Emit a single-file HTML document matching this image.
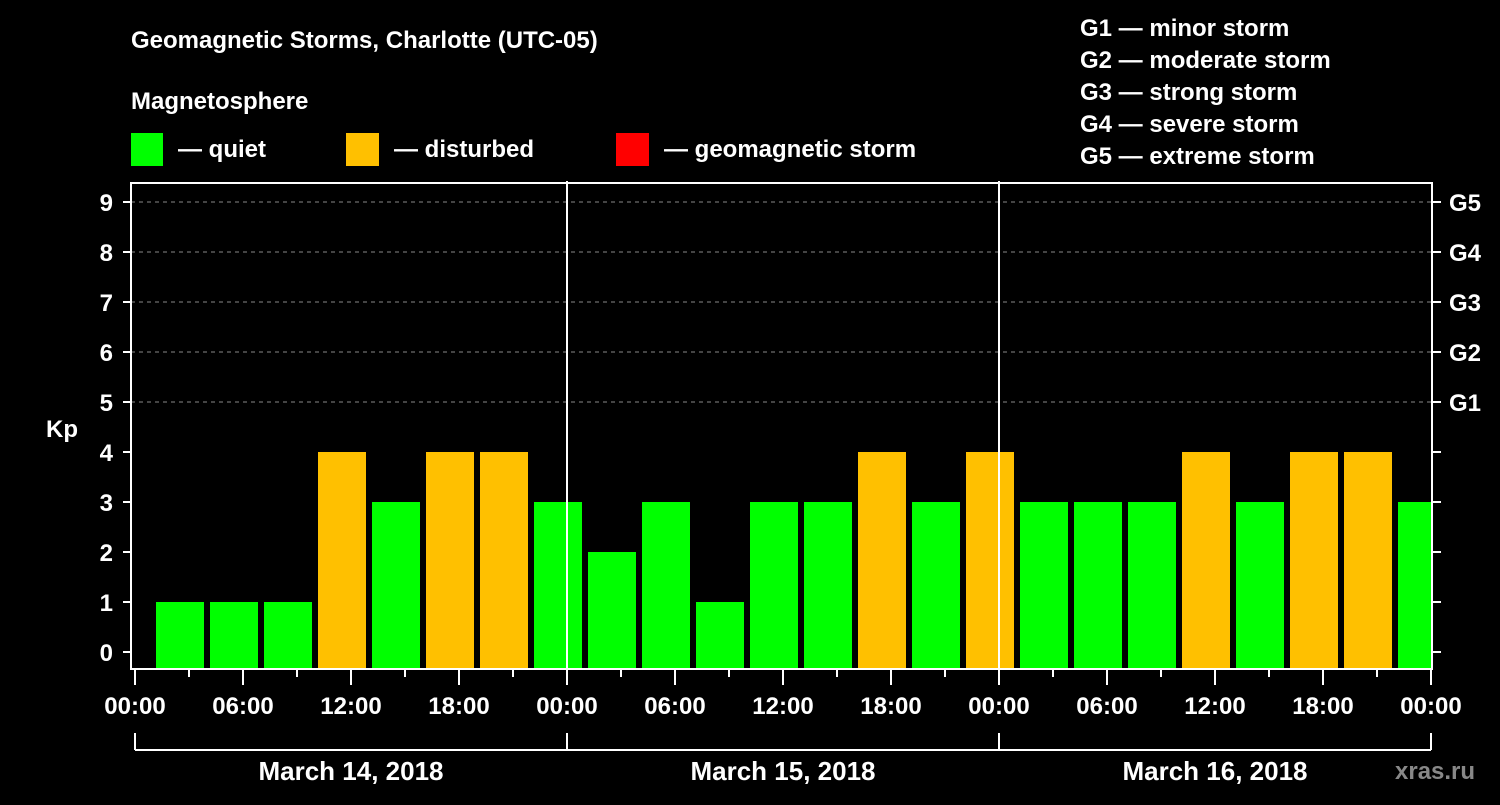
<!DOCTYPE html>
<html><head><meta charset="utf-8"><style>
body{margin:0;background:#000;}
svg text{font-family:"Liberation Sans",sans-serif;font-weight:bold;fill:#fff;}
</style></head><body>
<svg width="1500" height="800" viewBox="0 0 1500 800">
<rect x="0" y="0" width="1500" height="800" fill="#000"/>
<text x="131" y="48" font-size="24">Geomagnetic Storms, Charlotte (UTC-05)</text>
<text x="131" y="109" font-size="24">Magnetosphere</text>
<g><rect x="131" y="133" width="32" height="33" fill="#00ff00"/><text x="178" y="157" font-size="24">— quiet</text></g>
<g><rect x="346" y="133" width="33" height="33" fill="#ffc000"/><text x="394" y="157" font-size="24">— disturbed</text></g>
<g><rect x="616" y="133" width="33" height="33" fill="#ff0000"/><text x="664" y="157" font-size="24">— geomagnetic storm</text></g>
<g font-size="24">
<text x="1080" y="36">G1 — minor storm</text>
<text x="1080" y="68">G2 — moderate storm</text>
<text x="1080" y="100">G3 — strong storm</text>
<text x="1080" y="132">G4 — severe storm</text>
<text x="1080" y="164">G5 — extreme storm</text>
</g>
<text x="62" y="437" font-size="24" text-anchor="middle">Kp</text>
<text x="1395" y="779" font-size="24" fill="#888" style="fill:#888">xras.ru</text>
<defs><clipPath id="pc"><rect x="131" y="183" width="1301" height="486"/></clipPath></defs>
<g id="grid"></g>
<g id="bars" clip-path="url(#pc)"></g>
<g id="axes"></g>
</svg>
<script>
const kpValues=[1,1,1,4,3,4,4,3, 2,3,1,3,3,4,3,4, 3,3,3,4,3,4,4,3];
const yTicks=[0,1,2,3,4,5,6,7,8,9];
const gLabels=["G1","G2","G3","G4","G5"];
const timeLabels=["00:00","06:00","12:00","18:00"];
const dayLabels=["March 14, 2018","March 15, 2018","March 16, 2018"];
const NS="http://www.w3.org/2000/svg";
const x=h=>135+h*18;
const y=v=>652-v*50;
function mk(tag,attrs,parent,txt){const e=document.createElementNS(NS,tag);for(const k in attrs)e.setAttribute(k,attrs[k]);if(txt!==undefined)e.textContent=txt;parent.appendChild(e);return e;}
const grid=document.getElementById('grid'),bars=document.getElementById('bars'),axes=document.getElementById('axes');
for(let v=5;v<=9;v++){
 const l=mk('line',{x1:131,x2:1432,y1:y(v),y2:y(v),stroke:'#888','stroke-dasharray':'4,4','stroke-width':1},grid);
 
 
}
kpValues.forEach((v,i)=>{
 const r=mk('rect',{x:x(3*i)+21,y:y(v),width:48,height:669-y(v),fill:v>=5?'#ff0000':(v>=4?'#ffc000':'#00ff00')},bars);
 
 
});
// frame
const fr=mk('rect',{x:131,y:183,width:1301,height:486,fill:'none',stroke:'#fff','stroke-width':2},axes);


// day dividers
[1,2].forEach(d=>{
 const l=mk('line',{x1:x(24*d),x2:x(24*d),y1:181,y2:669,stroke:'#fff','stroke-width':2},axes);
 
 
});
yTicks.forEach(v=>{
 mk('line',{x1:123,x2:131,y1:y(v),y2:y(v),stroke:'#fff','stroke-width':2},axes);
 const t=mk('text',{x:113,y:y(v)+9,'font-size':24,'text-anchor':'end'},axes,String(v));
 
 
 mk('line',{x1:1432,x2:1441,y1:y(v),y2:y(v),stroke:'#fff','stroke-width':2},axes);
});
gLabels.forEach((g,i)=>{
 const t=mk('text',{x:1449,y:y(5+i)+9,'font-size':24},axes,g);
 
 
});
for(let h=0;h<=72;h+=3){
 const major=h%6===0;
 mk('line',{x1:x(h),x2:x(h),y1:669,y2:major?685:677,stroke:'#fff','stroke-width':2},axes);
 if(major){
  const t=mk('text',{x:x(h),y:714,'font-size':24,'text-anchor':'middle'},axes,timeLabels[(h/6)%4]);
  
  
 }
}
mk('line',{x1:x(0),x2:x(72),y1:750,y2:750,stroke:'#fff','stroke-width':2},axes);
for(let d=0;d<=3;d++)mk('line',{x1:x(24*d),x2:x(24*d),y1:733,y2:750,stroke:'#fff','stroke-width':2},axes);
dayLabels.forEach((s,d)=>{
 const t=mk('text',{x:x(24*d+12),y:780,'font-size':26,'text-anchor':'middle'},axes,s);
 
 
});
</script>
</body></html>
